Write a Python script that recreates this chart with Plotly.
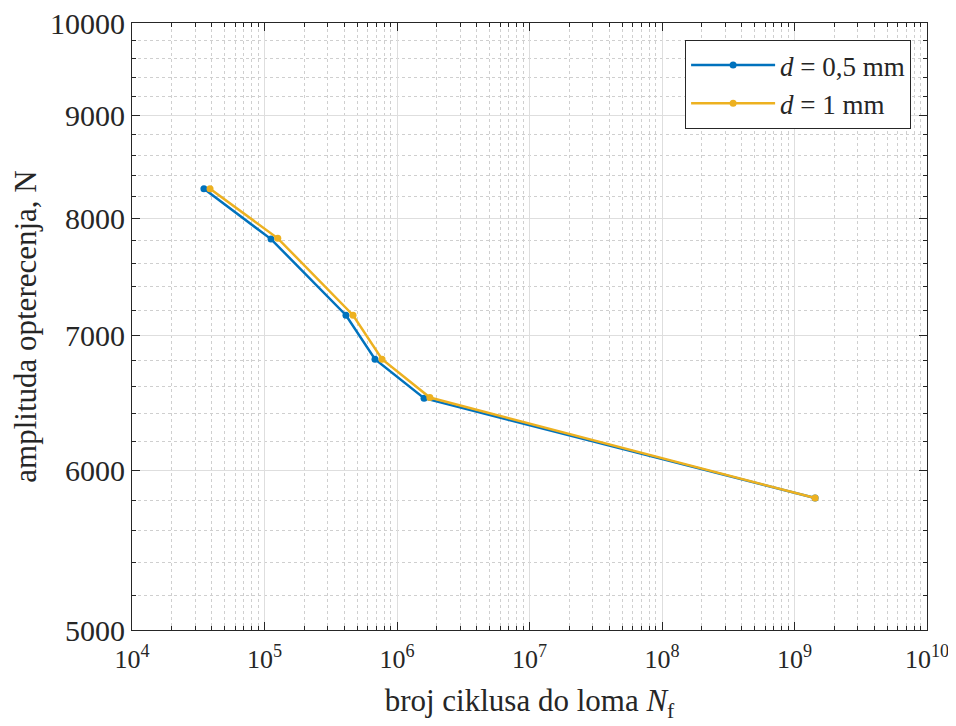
import plotly.graph_objects as go

# data
cycles_05 = [3.49e4, 1.12e5, 4.12e5, 6.82e5, 1.60e6, 1.43e9]
load_05 = [8275, 7813, 7163, 6812, 6515, 5813]
cycles_1 = [3.88e4, 1.26e5, 4.66e5, 7.71e5, 1.77e6, 1.43e9]
load_1 = [8275, 7820, 7163, 6812, 6520, 5813]

x_exps = [4, 5, 6, 7, 8, 9, 10]
x_ticks = [10 ** e for e in x_exps]
x_labels = [f'10<sup>{e}</sup>' for e in x_exps]
y_ticks = [5000, 6000, 7000, 8000, 9000, 10000]
y_minor = [v for v in range(5200, 10000, 200) if v % 1000 != 0]
x_minor = [k * 10 ** d for d in range(4, 10) for k in range(2, 10)]

BLUE = '#0072BD'
YELLOW = '#EDB120'
AXIS = '#262626'
FONT = 'Liberation Serif, Times New Roman, serif'

fig = go.Figure()
fig.add_trace(go.Scatter(
    x=cycles_05, y=load_05, mode='lines+markers',
    name='<i>d</i> = 0,5 mm',
    line=dict(color=BLUE, width=2.5),
    marker=dict(color=BLUE, size=7),
))
fig.add_trace(go.Scatter(
    x=cycles_1, y=load_1, mode='lines+markers',
    name='<i>d</i> = 1 mm',
    line=dict(color=YELLOW, width=2.5),
    marker=dict(color=YELLOW, size=7),
))

fig.update_xaxes(
    type='log', range=[4, 10], tickvals=x_ticks, ticktext=x_labels,
    showgrid=True, gridcolor='#dedede', gridwidth=1,
    showline=True, linecolor=AXIS, linewidth=1, mirror='ticks',
    ticks='inside', ticklen=8, tickcolor=AXIS, tickangle=0,
    ticklabeloverflow='allow', ticklabelstandoff=6,
    tickfont=dict(family=FONT, size=26, color=AXIS),
    minor=dict(tickvals=x_minor, showgrid=True, gridcolor='#cfcfcf',
               griddash='dot', ticks='inside', ticklen=4, tickcolor=AXIS),
    title=dict(text='broj ciklusa do loma <i>N</i><sub>f</sub>',
               font=dict(family=FONT, size=31, color=AXIS), standoff=16),
    zeroline=False, automargin=False,
)
fig.update_yaxes(
    type='log', range=[3.69897, 4], tickvals=y_ticks,
    ticktext=[str(v) for v in y_ticks],
    showgrid=True, gridcolor='#dedede', gridwidth=1,
    showline=True, linecolor=AXIS, linewidth=1, mirror='ticks',
    ticks='inside', ticklen=8, tickcolor=AXIS,
    ticklabeloverflow='allow',
    tickfont=dict(family=FONT, size=30, color=AXIS),
    minor=dict(tickvals=y_minor, showgrid=True, gridcolor='#cfcfcf',
               griddash='dot', ticks='inside', ticklen=4, tickcolor=AXIS),
    title=dict(text='amplituda opterecenja, N',
               font=dict(family=FONT, size=31, color=AXIS), standoff=8),
    zeroline=False, automargin=False,
)

# page body adds an 8px offset, so the figure is drawn 8px smaller
fig.update_layout(
    width=948, height=718,
    margin=dict(l=124, r=29, t=15, b=96),
    plot_bgcolor='white', paper_bgcolor='white',
    legend=dict(
        x=0.98, y=0.972, xanchor='right', yanchor='top',
        bgcolor='white', bordercolor=AXIS, borderwidth=1,
        font=dict(family=FONT, size=27, color=AXIS),
        itemwidth=84, tracegroupgap=0,
    ),
)

fig.write_html('out.html')
